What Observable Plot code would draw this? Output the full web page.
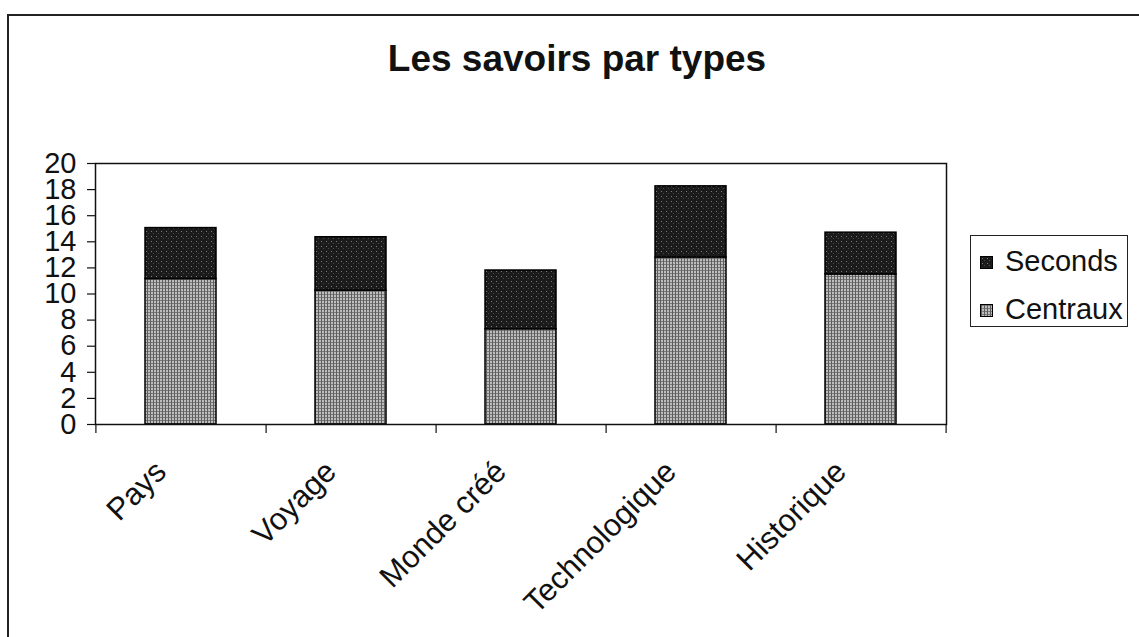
<!DOCTYPE html>
<html>
<head>
<meta charset="utf-8">
<script src="https://cdn.jsdelivr.net/npm/d3@7"></script>
<script src="https://cdn.jsdelivr.net/npm/@observablehq/plot@0.6"></script>
<style>
  html, body { margin: 0; padding: 0; background: #fff; overflow: hidden; }
  #wrap { position: relative; width: 1139px; height: 637px; font-family: "Liberation Sans", Arial, sans-serif; }
  #border { position: absolute; left: 7px; top: 14px; width: 1200px; height: 700px; border: 2px solid #222; box-sizing: border-box; }
  #title { position: absolute; left: 0; width: 1154px; top: 38px; text-align: center; font-size: 37px; font-weight: bold; color: #111; }
  #chart { position: absolute; left: 0; top: 0; }
  #legend { position: absolute; left: 970px; top: 235px; width: 158px; height: 92px; border: 1.5px solid #222; box-sizing: border-box; background: #fff; }
  .item { position: absolute; left: 9px; font-size: 29px; color: #111; line-height: 1; white-space: nowrap; }
  .sw { display: inline-block; width: 13px; height: 13px; border: 1px solid #000; box-sizing: border-box; vertical-align: 2px; margin-right: 12px; }
</style>
</head>
<body>
<svg width="0" height="0" style="position:absolute">
  <defs>
    <pattern id="patC" width="3" height="3" patternUnits="userSpaceOnUse">
      <rect width="3" height="3" fill="#bdbdbd"/>
      <rect x="0" y="0" width="1" height="3" fill="#5e5e5e"/>
      <rect x="1" y="0" width="2" height="1" fill="#7a7a7a"/>
    </pattern>
    <pattern id="patS" width="5" height="5" patternUnits="userSpaceOnUse">
      <rect width="5" height="5" fill="#1b1b1b"/>
      <rect x="1" y="1" width="1" height="1" fill="#7a7a7a"/>
      <rect x="3" y="3" width="1" height="1" fill="#4a4a4a"/>
    </pattern>
  </defs>
</svg>
<div id="wrap">
  <div id="border"></div>
  <div id="title">Les savoirs par types</div>
  <div id="chart"></div>
  <div id="legend"></div>
</div>
<script>
const categories = ["Pays", "Voyage", "Monde créé", "Technologique", "Historique"];
const seriesNames = ["Centraux", "Seconds"];
const centraux = [11.15, 10.25, 7.3, 12.8, 11.5];
const seconds = [3.9, 4.1, 4.5, 5.45, 3.2];
const yTicks = [0, 2, 4, 6, 8, 10, 12, 14, 16, 18, 20];
const legendOrder = ["Seconds", "Centraux"];

const fills = {Centraux: "url(#patC)", Seconds: "url(#patS)"};

const rows = [];
categories.forEach((c, i) => {
  rows.push({cat: c, series: "Centraux", value: centraux[i]});
  rows.push({cat: c, series: "Seconds", value: seconds[i]});
});

const W = 1139, H = 637;
const mL = 95, mR = 193, mT = 163, mB = 213;
const step = (W - mL - mR) / categories.length;

const chart = Plot.plot({
  width: W,
  height: H,
  marginLeft: mL,
  marginRight: mR,
  marginTop: mT,
  marginBottom: mB,
  style: {fontFamily: "'Liberation Sans', Arial, sans-serif", color: "#111", background: "transparent"},
  x: {domain: categories, paddingInner: 0.58, paddingOuter: 0.29},
  y: {domain: [0, 20]},
  color: {domain: seriesNames, range: seriesNames.map(s => fills[s])},
  marks: [
    Plot.barY(rows, Plot.stackY({x: "cat", y: "value", fill: "series", stroke: "#000", strokeWidth: 1.5})),
    Plot.frame({stroke: "#111", strokeWidth: 1.5}),
    Plot.axisY({ticks: yTicks, tickSize: 8, tickPadding: 11, fontSize: 29, label: null, strokeWidth: 1.2}),
    Plot.axisX({text: null, tickSize: 9, dx: step / 2, strokeWidth: 1.2, label: null}),
    Plot.axisX({ticks: [categories[0]], text: null, tickSize: 9, dx: -step / 2, strokeWidth: 1.2, label: null}),
    Plot.axisX({tickSize: 0, tickRotate: -45, tickPadding: 42, fontSize: 31, label: null, dx: -20})
  ]
});
document.getElementById("chart").appendChild(chart);

const legend = document.getElementById("legend");
legendOrder.forEach((s, i) => {
  const d = document.createElement("div");
  d.className = "item";
  d.style.top = (11 + i * 48) + "px";
  d.innerHTML = `<span class="sw"><svg width="11" height="11" style="display:block"><rect width="11" height="11" fill="${fills[s]}"/></svg></span>${s}`;
  legend.appendChild(d);
});
</script>
</body>
</html>
